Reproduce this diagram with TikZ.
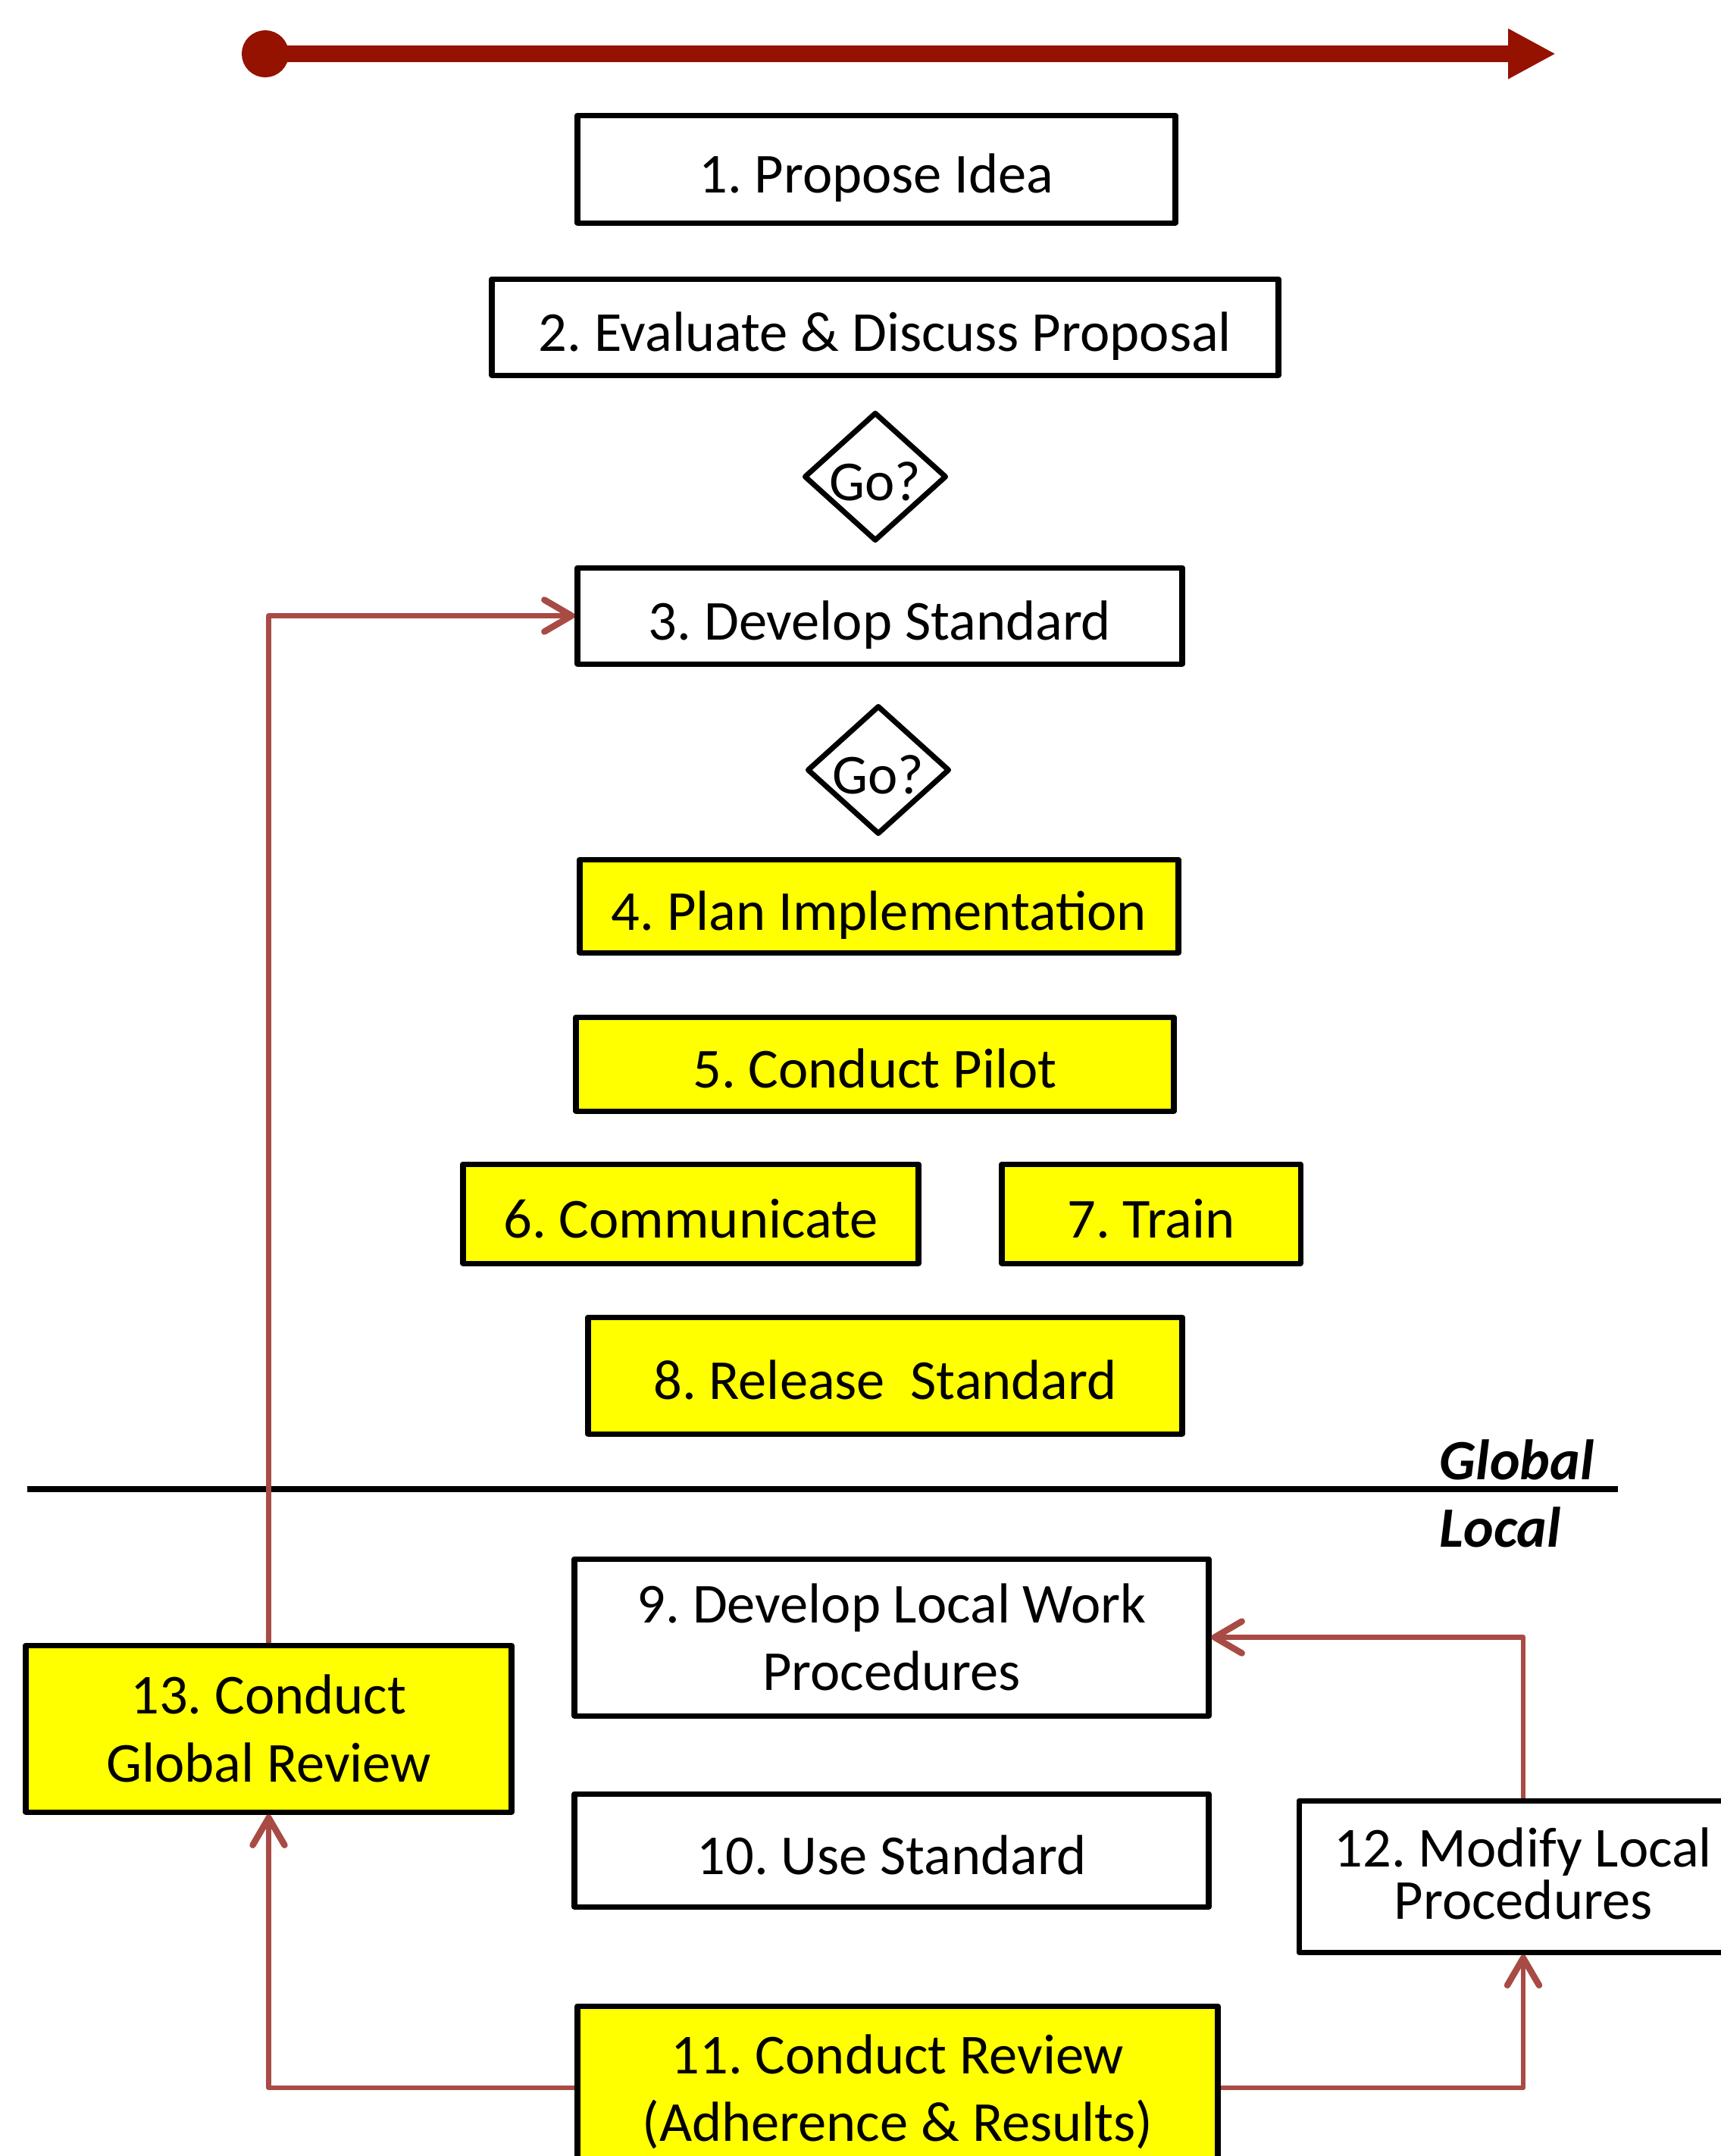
\documentclass[tikz,border=0pt]{standalone}
\usepackage{fontspec}
\setmainfont{Carlito}
\usetikzlibrary{shapes.geometric,arrows.meta,positioning}
\definecolor{linkred}{RGB}{168,75,69}
\definecolor{timered}{RGB}{149,17,0}
\definecolor{stepyellow}{RGB}{255,255,0}
\frenchspacing

\begin{document}
\begin{tikzpicture}[line join=round,
  task/.style = {draw, line width=2pt, align=center, inner sep=0pt, font=\fontsize{21.2}{25.5}\selectfont},
  plain/.style = {task, fill=white},
  marked/.style = {task, fill=stepyellow},
  oneline/.style = {text height=18pt, text depth=0pt},
  lifted/.style = {execute at begin node={\rule{0pt}{#1}}},
  gate/.style = {draw, diamond, line width=2pt, inner sep=-4pt, minimum width=1.88cm, minimum height=1.70cm, text height=18pt, text depth=0pt, font=\fontsize{21.2}{25.5}\selectfont},
  link/.style = {draw=linkred, line width=1.9pt, -{Straight Barb[length=0.36cm,width=0.42cm,line width=2.4pt,round]}},
  side/.style = {anchor=west, inner sep=0pt, font=\fontsize{21.4}{25}\selectfont\bfseries\itshape},
]
\useasboundingbox (0,0) rectangle (22.71,-28.45);
\coordinate (tstart) at (3.19,-0.71);
\coordinate (tend) at (20.53,-0.71);
\draw[timered, line width=6pt, {Circle[length=0.62cm,width=0.62cm]}-{Triangle[length=0.63cm,width=0.62cm]}] (tstart) -- (tend);
\node (propose) at (11.565,-2.23)[plain, oneline, minimum width=7.89cm, minimum height=1.42cm] {1. Propose Idea};
\node (evaluate) at (11.68,-4.315)[plain, oneline, minimum width=10.38cm, minimum height=1.27cm] {2. Evaluate \& Discuss Proposal};
\node (gofirst) at (11.55,-6.29)[gate] {Go?};
\node (develop) at (11.61,-8.125)[plain, oneline, minimum width=7.98cm, minimum height=1.27cm] {3. Develop Standard};
\node (gosecond) at (11.59,-10.16)[gate] {Go?};
\node (plan) at (11.60,-11.955)[marked, oneline, minimum width=7.90cm, minimum height=1.23cm] {4. Plan Implementation};
\node (pilot) at (11.545,-14.04)[marked, oneline, minimum width=7.89cm, minimum height=1.24cm] {5. Conduct Pilot};
\node (communicate) at (9.115,-16.015)[marked, oneline, minimum width=6.01cm, minimum height=1.31cm] {6. Communicate};
\node (train) at (15.19,-16.015)[marked, oneline, minimum width=3.94cm, minimum height=1.31cm] {7. Train};
\node (release) at (11.68,-18.15)[marked, oneline, minimum width=7.84cm, minimum height=1.54cm] {8. Release\ \ Standard};
\coordinate (divl) at (0.36,-19.65);
\coordinate (divr) at (21.35,-19.65);
\draw[line width=2.5pt] (divl) -- (divr);
\node (global) at (18.99,-19.26)[side] {Global};
\node (local) at (18.99,-20.15)[side] {Local};
\node (localwork) at (11.765,-21.605)[plain, lifted=22pt, minimum width=8.37cm, minimum height=2.07cm] {9. Develop Local Work\\Procedures};
\node (usestd) at (11.765,-24.415)[plain, oneline, minimum width=8.37cm, minimum height=1.49cm] {10. Use Standard};
\node (review) at (11.845,-27.55)[marked, lifted=17pt, text depth=-2pt, minimum width=8.45cm, minimum height=2.16cm] {11. Conduct Review\\(Adherence \& Results)};
\node (modify) at (20.10,-24.76)[plain, text depth=2pt, minimum width=5.92cm, minimum height=2.00cm, font=\fontsize{21.2}{19.6}\selectfont] {12. Modify Local\\Procedures};
\node (globalrev) at (3.545,-22.81)[marked, lifted=18pt, minimum width=6.41cm, minimum height=2.20cm] {13. Conduct\\Global Review};
\draw[link] (globalrev.north) |- (develop.west);
\draw[link] (review.west) -| (globalrev.south);
\draw[link] (review.east) -| (modify.south);
\draw[link] (modify.north) |- (localwork.east);
\end{tikzpicture}
\end{document}
